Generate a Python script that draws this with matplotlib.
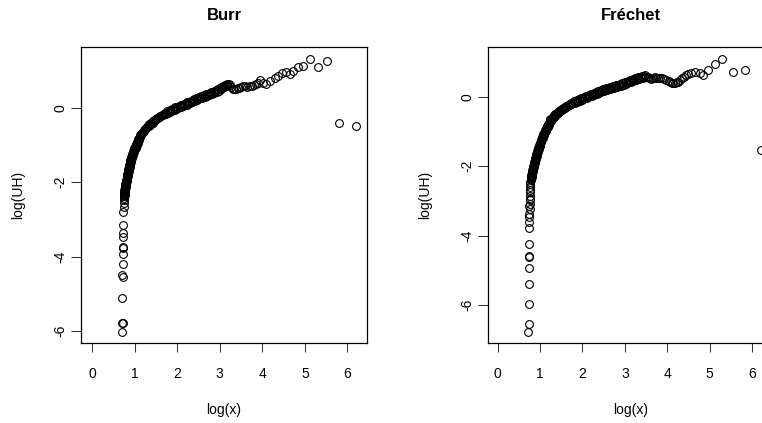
import matplotlib
matplotlib.use("Agg")
import matplotlib.pyplot as plt

plt.rcParams['font.family'] = ['Liberation Sans', 'DejaVu Sans']

# ---------------- data ----------------
burr_x = [0.70, 0.71, 0.72, 0.71, 0.72, 0.71, 0.72, 0.72, 0.72, 0.73, 0.72, 0.73, 0.73,
          0.73, 0.74, 0.74, 0.74, 0.75, 0.74,
          0.750, 0.752, 0.755, 0.757, 0.760, 0.764, 0.768, 0.772, 0.778, 0.785, 0.795,
          0.800, 0.806, 0.810, 0.815, 0.822, 0.828, 0.835, 0.842, 0.850, 0.858, 0.866,
          0.872, 0.880, 0.890, 0.898, 0.907, 0.918, 0.930, 0.942, 0.955, 0.968, 0.982,
          0.995, 1.010, 1.025, 1.040, 1.055, 1.070, 1.085, 1.100,
          1.12, 1.14, 1.16, 1.18, 1.20, 1.22, 1.25, 1.27, 1.30, 1.33, 1.36, 1.39, 1.42,
          1.45, 1.48, 1.51, 1.55, 1.58, 1.62, 1.66,
          1.70, 1.74, 1.78, 1.82, 1.86, 1.90, 1.94, 1.98, 2.02, 2.06, 2.10, 2.14, 2.18,
          2.22, 2.26, 2.30, 2.34, 2.38, 2.42, 2.46, 2.50, 2.54, 2.58, 2.62, 2.66, 2.70,
          2.74, 2.78, 2.82, 2.86, 2.90, 2.94, 2.98, 3.02, 3.06, 3.10, 3.14, 3.18, 3.21,
          3.24, 3.27, 3.30, 3.34, 3.38, 3.42, 3.46, 3.50, 3.55, 3.60, 3.65, 3.70, 3.75,
          3.80, 3.86, 3.90,
          3.94, 4.01, 4.09, 4.17, 4.29, 4.37, 4.47, 4.55, 4.65, 4.72, 4.83, 4.96, 5.11,
          5.30, 5.53, 5.80, 6.21]
burr_y = [-6.02, -5.79, -5.78, -5.10, -4.55, -4.50, -4.20, -3.92, -3.77, -3.73, -3.47, -3.36,
          -3.16, -2.81, -2.66, -2.55, -2.47, -2.42, -2.38,
          -2.36, -2.33, -2.29, -2.26, -2.22, -2.18, -2.15, -2.11, -2.07, -2.04, -2.00,
          -1.97, -1.93, -1.89, -1.85, -1.81, -1.77, -1.73, -1.69, -1.65, -1.61, -1.57,
          -1.53, -1.49, -1.45, -1.41, -1.37, -1.33, -1.29, -1.25, -1.21, -1.17, -1.13,
          -1.09, -1.05, -1.01, -0.97, -0.93, -0.89, -0.85, -0.81,
          -0.77, -0.74, -0.71, -0.68, -0.65, -0.62, -0.58, -0.55, -0.52, -0.49, -0.46,
          -0.43, -0.40, -0.37, -0.34, -0.31, -0.28, -0.26, -0.23, -0.20,
          -0.18, -0.16, -0.13, -0.11, -0.09, -0.07, -0.05, -0.02, 0.00, 0.01, 0.03, 0.04,
          0.06, 0.08, 0.10, 0.13, 0.15, 0.17, 0.19, 0.21, 0.23, 0.25, 0.27, 0.28, 0.30,
          0.32, 0.34, 0.36, 0.37, 0.39, 0.41, 0.43, 0.46, 0.49, 0.52, 0.55, 0.58, 0.61,
          0.63, 0.60, 0.55, 0.51, 0.49, 0.50, 0.52, 0.54, 0.55, 0.57, 0.58, 0.56, 0.58,
          0.57, 0.60, 0.63, 0.66,
          0.74, 0.66, 0.63, 0.72, 0.79, 0.86, 0.92, 0.95, 0.90, 0.99, 1.09, 1.13, 1.31,
          1.09, 1.26, -0.42, -0.50]
# second, slightly shifted run of points that makes the dense band solid
burr_x2 = [0.765, 0.768, 0.772, 0.775, 0.779, 0.784, 0.789, 0.795, 0.802, 0.808, 0.815,
           0.820, 0.826, 0.831, 0.838, 0.845, 0.852, 0.859, 0.867, 0.875, 0.883, 0.890,
           0.897, 0.906, 0.915, 0.924, 0.934, 0.945, 0.957, 0.969, 0.982, 0.996, 1.010,
           1.024, 1.038, 1.053, 1.068, 1.083, 1.098, 1.113, 1.128,
           1.13, 1.15, 1.17, 1.19, 1.21, 1.235, 1.26, 1.285, 1.315, 1.345, 1.375, 1.405,
           1.435, 1.465, 1.495, 1.53, 1.565, 1.60, 1.64, 1.68,
           1.72, 1.76, 1.80, 1.84, 1.88, 1.92, 1.96, 2.00, 2.04, 2.08, 2.12, 2.16, 2.20,
           2.24, 2.28, 2.32, 2.36, 2.40, 2.44, 2.48, 2.52, 2.56, 2.60, 2.64, 2.68, 2.72,
           2.76, 2.80, 2.84, 2.88, 2.92, 2.96, 3.00, 3.04, 3.08, 3.12, 3.16]
burr_y2 = [-2.34, -2.31, -2.27, -2.24, -2.20, -2.16, -2.13, -2.09, -2.05, -2.02, -1.98,
           -1.95, -1.91, -1.87, -1.83, -1.79, -1.75, -1.71, -1.67, -1.63, -1.59, -1.55,
           -1.51, -1.47, -1.43, -1.39, -1.35, -1.31, -1.27, -1.23, -1.19, -1.15, -1.11,
           -1.07, -1.03, -0.99, -0.95, -0.91, -0.87, -0.83, -0.79,
           -0.73, -0.70, -0.67, -0.64, -0.61, -0.57, -0.54, -0.51, -0.48, -0.45, -0.42,
           -0.39, -0.36, -0.33, -0.30, -0.27, -0.24, -0.22, -0.19, -0.16,
           -0.13, -0.10, -0.08, -0.06, -0.04, -0.02, 0.01, 0.03, 0.05, 0.06, 0.08, 0.10,
           0.12, 0.14, 0.16, 0.19, 0.21, 0.23, 0.25, 0.27, 0.29, 0.31, 0.32, 0.34, 0.36,
           0.38, 0.40, 0.41, 0.43, 0.45, 0.47, 0.49, 0.52, 0.55, 0.58, 0.61, 0.64]

frechet_x = [0.72, 0.73, 0.73, 0.73, 0.73, 0.73, 0.74, 0.73, 0.73, 0.74, 0.73, 0.74, 0.75,
             0.74, 0.75, 0.75, 0.76, 0.75, 0.76, 0.76, 0.76, 0.77, 0.77,
             0.775, 0.780, 0.785, 0.790, 0.795, 0.800, 0.808, 0.815, 0.822, 0.830, 0.838,
             0.845, 0.855, 0.862, 0.870, 0.878, 0.888, 0.897, 0.906, 0.915, 0.925, 0.935,
             0.944, 0.955, 0.965, 0.975, 0.987, 0.998, 1.010, 1.022, 1.035, 1.050, 1.063,
             1.078, 1.092, 1.107, 1.122, 1.140, 1.155, 1.172, 1.190, 1.210,
             1.23, 1.25, 1.28, 1.30, 1.33, 1.36, 1.39, 1.42, 1.45, 1.48, 1.51, 1.54, 1.58,
             1.62, 1.66, 1.70, 1.74,
             1.78, 1.82, 1.86, 1.90, 1.94, 1.98, 2.02, 2.06, 2.10, 2.14, 2.18, 2.22, 2.26,
             2.30, 2.34, 2.38, 2.42, 2.46, 2.50, 2.54, 2.58, 2.62, 2.66, 2.70, 2.74, 2.78,
             2.82, 2.86, 2.90, 2.94, 2.98, 3.02, 3.06, 3.10, 3.14, 3.18, 3.22, 3.26, 3.30,
             3.34, 3.38, 3.42, 3.46, 3.50, 3.54, 3.58, 3.62, 3.66, 3.70, 3.74, 3.78, 3.82,
             3.87, 3.92, 3.98, 4.03, 4.06, 4.10, 4.14, 4.18, 4.22, 4.26, 4.30, 4.34, 4.39,
             4.44, 4.50, 4.55, 4.65, 4.76, 4.84, 4.97, 5.13, 5.29, 5.54, 5.84, 6.21]
frechet_y = [-6.77, -6.54, -5.97, -5.40, -4.94, -4.62, -4.58, -4.25, -3.77, -3.61, -3.47,
             -3.37, -3.23, -3.15, -3.08, -2.98, -2.94, -2.85, -2.75, -2.68, -2.60, -2.52,
             -2.45,
             -2.40, -2.36, -2.32, -2.28, -2.24, -2.20, -2.16, -2.12, -2.08, -2.04, -2.00,
             -1.96, -1.92, -1.88, -1.84, -1.80, -1.76, -1.72, -1.68, -1.64, -1.60, -1.56,
             -1.52, -1.48, -1.44, -1.40, -1.36, -1.32, -1.28, -1.24, -1.20, -1.16, -1.12,
             -1.08, -1.04, -1.00, -0.96, -0.92, -0.88, -0.84, -0.80, -0.76,
             -0.72, -0.69, -0.65, -0.62, -0.58, -0.55, -0.51, -0.48, -0.45, -0.42, -0.39,
             -0.36, -0.33, -0.30, -0.27, -0.24, -0.21,
             -0.19, -0.17, -0.15, -0.13, -0.11, -0.09, -0.07, -0.05, -0.03, -0.01, 0.01,
             0.03, 0.05, 0.07, 0.09, 0.11, 0.13, 0.15, 0.17, 0.18, 0.20, 0.21, 0.23, 0.25,
             0.26, 0.28, 0.29, 0.31, 0.32, 0.34, 0.35, 0.37, 0.39, 0.41, 0.43, 0.45, 0.47,
             0.49, 0.51, 0.52, 0.54, 0.55, 0.56, 0.58, 0.57, 0.53, 0.51, 0.54, 0.56, 0.54,
             0.55, 0.53, 0.53, 0.50, 0.48, 0.44, 0.42, 0.40, 0.39, 0.39, 0.41, 0.43, 0.47,
             0.53, 0.57, 0.61, 0.65, 0.68, 0.71, 0.68, 0.61, 0.77, 0.93, 1.09, 0.71, 0.78,
             -1.54]
frechet_x2 = [0.790, 0.795, 0.800, 0.805, 0.812, 0.819, 0.826, 0.833, 0.841, 0.849, 0.857,
              0.865, 0.874, 0.882, 0.890, 0.899, 0.908, 0.917, 0.926, 0.936, 0.946, 0.956,
              0.966, 0.976, 0.987, 0.998, 1.009, 1.021, 1.033, 1.046, 1.060, 1.073, 1.087,
              1.102, 1.117, 1.132, 1.149, 1.165, 1.182, 1.200, 1.220,
              1.225, 1.245, 1.275, 1.30, 1.33, 1.36, 1.39, 1.42, 1.45, 1.48, 1.51, 1.545,
              1.58, 1.62, 1.66, 1.70, 1.74,
              1.80, 1.84, 1.88, 1.92, 1.96, 2.00, 2.04, 2.08, 2.12, 2.16, 2.20, 2.24, 2.28,
              2.32, 2.36, 2.40, 2.44, 2.48, 2.52, 2.56, 2.60, 2.64, 2.68, 2.72, 2.76, 2.80,
              2.84, 2.88, 2.92, 2.96, 3.00, 3.04, 3.08, 3.12, 3.16, 3.20, 3.24, 3.28, 3.32,
              3.36, 3.40, 3.44, 3.48]
frechet_y2 = [-2.38, -2.34, -2.30, -2.26, -2.22, -2.18, -2.14, -2.10, -2.06, -2.02, -1.98,
              -1.94, -1.90, -1.86, -1.82, -1.78, -1.74, -1.70, -1.66, -1.62, -1.58, -1.54,
              -1.50, -1.46, -1.42, -1.38, -1.34, -1.30, -1.26, -1.22, -1.18, -1.14, -1.10,
              -1.06, -1.02, -0.98, -0.94, -0.90, -0.86, -0.82, -0.78,
              -0.68, -0.65, -0.61, -0.58, -0.54, -0.51, -0.47, -0.44, -0.41, -0.38, -0.35,
              -0.32, -0.29, -0.26, -0.23, -0.20, -0.18,
              -0.13, -0.11, -0.09, -0.07, -0.05, -0.03, -0.01, 0.01, 0.03, 0.05, 0.07, 0.09,
              0.11, 0.13, 0.15, 0.17, 0.19, 0.21, 0.22, 0.24, 0.26, 0.27, 0.29, 0.30, 0.32,
              0.33, 0.35, 0.36, 0.38, 0.40, 0.41, 0.43, 0.45, 0.47, 0.49, 0.51, 0.53, 0.55,
              0.56, 0.58, 0.59, 0.60, 0.62]

x_ticks = [0, 1, 2, 3, 4, 5, 6]
y_ticks = [-6, -4, -2, 0]
titles = ["Burr", "Fréchet"]
x_label = "log(x)"
y_label = "log(UH)"

# ---------------- layout ----------------
W, H = 762, 423
fig = plt.figure(figsize=(W / 100, H / 100), dpi=100)


def make_axes(left_px, top_px, w_px, h_px):
    return fig.add_axes([left_px / W, 1 - (top_px + h_px) / H, w_px / W, h_px / H])


panels = [
    dict(left=81, xs=burr_x + burr_x2, ys=burr_y + burr_y2,
         xlim=(-0.26, 6.46), ylim=(-6.32, 1.63), title=titles[0]),
    dict(left=487.7, xs=frechet_x + frechet_x2, ys=frechet_y + frechet_y2,
         xlim=(-0.236, 6.51), ylim=(-7.09, 1.43), title=titles[1]),
]

top_px, w_px, h_px = 47, 286, 296

for p in panels:
    ax = make_axes(p["left"], top_px, w_px, h_px)
    ax.plot(p["xs"], p["ys"], linestyle="none", marker="o", markersize=5.6,
            markerfacecolor="none", markeredgecolor="black", markeredgewidth=0.8)
    ax.set_xlim(*p["xlim"])
    ax.set_ylim(*p["ylim"])
    ax.set_xticks(x_ticks)
    ax.set_yticks(y_ticks)
    ax.set_xticklabels([str(t) for t in x_ticks])
    ax.set_yticklabels([str(t) for t in y_ticks], rotation=90, va="center")
    ax.tick_params(axis="x", length=6.5, width=0.75, pad=10.5, labelsize=10, color="#333333")
    ax.tick_params(axis="y", length=7.2, width=0.75, pad=2.5, labelsize=10, color="#333333")
    for s in ax.spines.values():
        s.set_linewidth(0.9)
    cx = (p["left"] + w_px / 2) / W
    fig.text(cx, 1 - 15 / H, p["title"], ha="center", va="center",
             fontsize=12, fontweight="bold")
    fig.text(cx, 1 - 410 / H, x_label, ha="center", va="center", fontsize=10)
    fig.text((p["left"] - 63) / W, 1 - 195 / H, y_label, ha="center", va="center",
             rotation=90, fontsize=10)

fig.savefig("out.png", dpi=100)
